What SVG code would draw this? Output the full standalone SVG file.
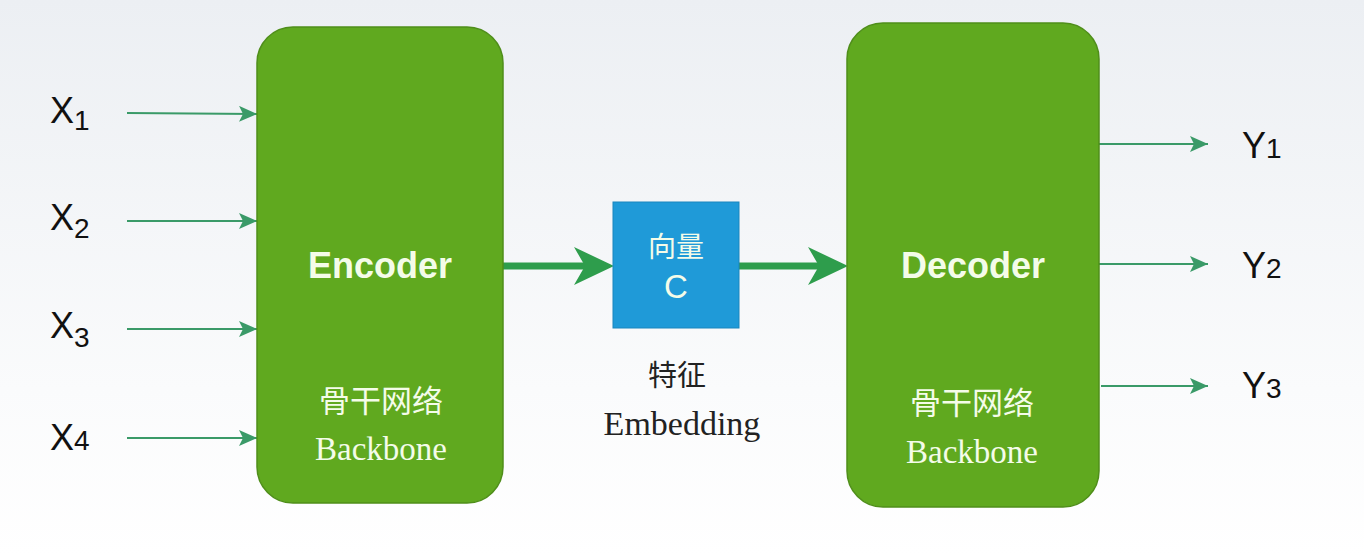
<svg xmlns="http://www.w3.org/2000/svg" width="1364" height="556" viewBox="0 0 1364 556">
  <defs>
    <linearGradient id="bg" x1="0" y1="0" x2="0" y2="1">
      <stop offset="0" stop-color="#eceff3"/>
      <stop offset="0.7" stop-color="#fafbfc"/>
      <stop offset="1" stop-color="#ffffff"/>
    </linearGradient>
    <marker id="thin" markerUnits="userSpaceOnUse" markerWidth="20" markerHeight="16" refX="18" refY="8" orient="auto">
      <path d="M0,0 L18,8 L0,16 L4,8 Z" fill="#3a9a68"/>
    </marker>
  </defs>
  <style>
    .block { fill: #60a91f; stroke: #4f8e1a; stroke-width: 1.5; }
    .vec { fill: #1f9ad8; stroke: #1a86be; stroke-width: 1; }
    .title { font-family: "Liberation Sans", Arial, sans-serif; font-weight: bold; font-size: 36px; fill: #f4fce9; text-anchor: middle; }
    .plain { font-family: "Liberation Sans", Arial, sans-serif; font-size: 33px; fill: #f4fce9; text-anchor: middle; }
    .cjk { font-family: "Noto Sans CJK SC", sans-serif; font-size: 31px; fill: #f4fce9; text-anchor: middle; }
    .serif { font-family: "Liberation Serif", "Times New Roman", serif; font-size: 33px; fill: #f4fce9; text-anchor: middle; }
    .lbl { font-family: "Liberation Sans", Arial, sans-serif; font-size: 36px; fill: #111; }
    .sub { font-family: "Liberation Sans", Arial, sans-serif; font-size: 28px; fill: #111; }
    .io { stroke: #3a9a68; stroke-width: 2; fill: none; marker-end: url(#thin); }
    .big { stroke: #2e9d4c; stroke-width: 7; fill: none; }
    .bighead { fill: #2e9d4c; }
  </style>

  <rect x="0" y="0" width="1364" height="556" fill="url(#bg)"/>

  <!-- input labels -->
  <g id="inputs">
    <text class="lbl" x="50" y="123">X<tspan class="sub" dy="7">1</tspan></text>
    <text class="lbl" x="50" y="230">X<tspan class="sub" dy="8">2</tspan></text>
    <text class="lbl" x="50" y="338">X<tspan class="sub" dy="9">3</tspan></text>
    <text class="lbl" x="50" y="450">X<tspan class="sub">4</tspan></text>
  </g>

  <!-- output labels -->
  <g id="outputs">
    <text class="lbl" x="1242" y="158">Y<tspan class="sub">1</tspan></text>
    <text class="lbl" x="1242" y="278">Y<tspan class="sub">2</tspan></text>
    <text class="lbl" x="1242" y="398">Y<tspan class="sub">3</tspan></text>
  </g>

  <g id="connectors">
    <line class="io" x1="127" y1="113" x2="257" y2="114"/>
    <line class="io" x1="127" y1="221" x2="257" y2="221"/>
    <line class="io" x1="127" y1="329" x2="257" y2="329"/>
    <line class="io" x1="127" y1="438" x2="257" y2="438"/>

    <line class="io" x1="1099" y1="144" x2="1208" y2="144"/>
    <line class="io" x1="1099" y1="264" x2="1208" y2="264"/>
    <line class="io" x1="1101" y1="386" x2="1208" y2="386"/>

    <line class="big" x1="503" y1="266" x2="590" y2="266"/>
    <path class="bighead" d="M574,247 L614,266 L574,285 L585,266 Z"/>
    <line class="big" x1="739" y1="266" x2="826" y2="266"/>
    <path class="bighead" d="M808,247 L848,266 L808,285 L819,266 Z"/>
  </g>

  <g id="encoder">
    <rect class="block" x="257" y="27" width="246" height="476" rx="36" ry="36"/>
    <text class="title" x="380" y="278">Encoder</text>
    <text class="cjk" x="381" y="412">骨干网络</text>
    <text class="serif" x="381" y="460">Backbone</text>
  </g>

  <g id="vector">
    <rect class="vec" x="613" y="202" width="126" height="126"/>
    <text class="cjk" x="676" y="257" style="font-size:28px">向量</text>
    <text class="plain" x="676" y="298">C</text>
  </g>

  <g id="embedding">
    <text x="677" y="386" font-family="Noto Sans CJK SC, sans-serif" font-size="29" fill="#222" text-anchor="middle">特征</text>
    <text x="682" y="435" font-family="Liberation Serif, Times New Roman, serif" font-size="34" fill="#222" text-anchor="middle">Embedding</text>
  </g>

  <g id="decoder">
    <rect class="block" x="847" y="23" width="252" height="484" rx="36" ry="36"/>
    <text class="title" x="973" y="278">Decoder</text>
    <text class="cjk" x="972" y="414">骨干网络</text>
    <text class="serif" x="972" y="463">Backbone</text>
  </g>
</svg>
